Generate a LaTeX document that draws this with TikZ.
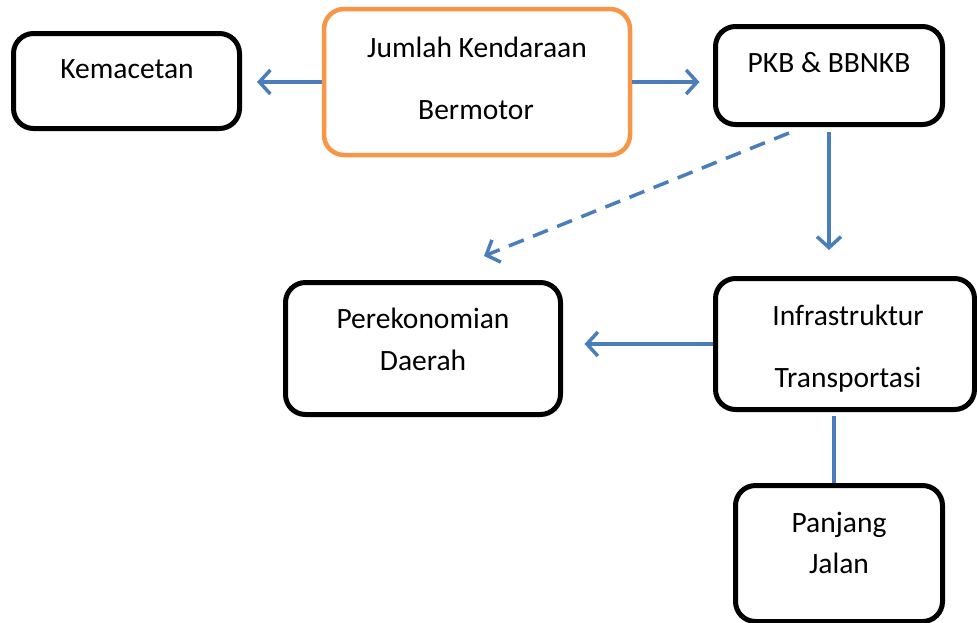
\documentclass[tikz,border=0pt]{standalone}
\usepackage{fontspec}
\setmainfont{Carlito}
\usetikzlibrary{arrows.meta}
\definecolor{lblue}{RGB}{74,126,187}
\definecolor{lorange}{RGB}{247,150,70}
\tikzset{
  box/.style={draw=black, line width=5pt, rounded corners=20pt, rectangle, inner sep=0pt, fill=white},
  obox/.style={box, draw=lorange, line width=4.5pt},
  lbl/.style={anchor=base, inner sep=0pt, font=\fontsize{29.5}{35}\selectfont},
  conn/.style={draw=lblue, line width=3.5pt},
  arr/.style={conn, -{Straight Barb[length=11pt, width=24pt, line width=3.5pt]}},
}
\begin{document}
\begin{tikzpicture}[x=1pt, y=-1pt]
\useasboundingbox (0,0) rectangle (977,622);
% boxes
\node[box, minimum width=226pt, minimum height=95pt] (kem) at (126.5,81) {};
\node[obox, minimum width=306pt, minimum height=146pt] (jum) at (477,82) {};
\node[box, minimum width=227pt, minimum height=98pt] (pkb) at (829,75.5) {};
\node[box, minimum width=275pt, minimum height=132pt] (per) at (423,348.5) {};
\node[box, minimum width=259pt, minimum height=131pt] (inf) at (845,344) {};
\node[box, minimum width=207pt, minimum height=136pt] (pan) at (839,553.5) {};
% texts
\node[lbl] (t1) at (127,78) {Kemacetan};
\node[lbl] (t2) at (477,57) {Jumlah Kendaraan};
\node[lbl] (t3) at (476,119) {Bermotor};
\node[lbl] (t4) at (829,72) {PKB \& BBNKB};
\node[lbl] (t5) at (423,328) {Perekonomian};
\node[lbl] (t6) at (423,370) {Daerah};
\node[lbl] (t7) at (848,325) {Infrastruktur};
\node[lbl] (t8) at (848,387) {Transportasi};
\node[lbl] (t9) at (839,532) {Panjang};
\node[lbl] (t10) at (839,573) {Jalan};
% connectors
\draw[arr, shorten >=15pt] (jum.west) -- (kem.east |- jum.west);
\draw[arr, shorten >=13.5pt] (jum.east) -- (pkb.west |- jum.east);
\draw[arr, shorten <=5pt, shorten >=26pt] (pkb.south) -- (pkb.south |- inf.north);
\coordinate (dS) at (789,133);
\coordinate (dE) at (484,256);
\draw[arr, dash pattern=on 16pt off 10pt] (dS) -- (dE);
\draw[arr, shorten >=21.5pt] (inf.west) -- (per.east |- inf.west);
\coordinate (iB) at ([xshift=-11pt]inf.south);
\draw[conn, shorten <=4pt] (iB) -- (iB |- pan.north);
\end{tikzpicture}
\end{document}
